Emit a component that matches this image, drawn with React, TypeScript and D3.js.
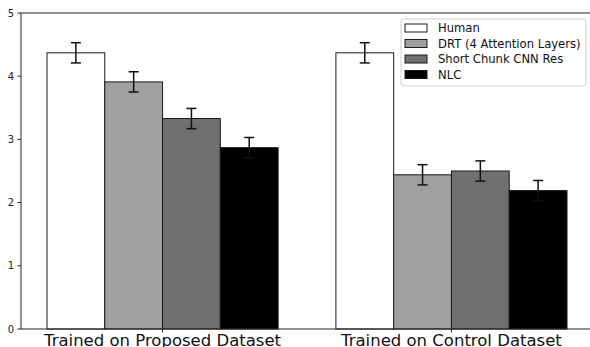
import React from "react";
import * as d3 from "d3";

const groups = ["Trained on Proposed Dataset", "Trained on Control Dataset"];
const seriesNames = ["Human", "DRT (4 Attention Layers)", "Short Chunk CNN Res", "NLC"];
const seriesColors = ["#ffffff", "#a0a0a0", "#707070", "#000000"];
const humanScores = [4.37, 4.37];
const drtScores = [3.91, 2.44];
const cnnScores = [3.33, 2.5];
const nlcScores = [2.87, 2.19];
const humanErr = [0.16, 0.16];
const drtErr = [0.16, 0.16];
const cnnErr = [0.16, 0.16];
const nlcErr = [0.16, 0.16];
const yTicks = [0, 1, 2, 3, 4, 5];

const W = 590;
const H = 347;
const barW = 0.2;

const App: React.FC = () => {
  const values = [humanScores, drtScores, cnnScores, nlcScores];
  const errors = [humanErr, drtErr, cnnErr, nlcErr];

  const x = d3.scaleLinear().domain([-0.49, 1.49]).range([21, 593]);
  const y = d3.scaleLinear().domain([0, 5]).range([329, 13]);

  const font = "DejaVu Sans, sans-serif";

  return (
    <svg
      width={W}
      height={H}
      style={{ position: "absolute", left: 0, top: 0, background: "#fff" }}
      fontFamily={font}
    >
      {/* bars */}
      {values.map((vals, si) =>
        vals.map((v, gi) => {
          const x0 = x(gi - 0.4 + si * barW);
          const x1 = x(gi - 0.4 + (si + 1) * barW);
          return (
            <rect
              key={`b${si}-${gi}`}
              x={x0}
              y={y(v)}
              width={x1 - x0}
              height={y(0) - y(v)}
              fill={seriesColors[si]}
              stroke="#1a1a1a"
              strokeWidth={1}
            />
          );
        })
      )}

      {/* error bars */}
      {values.map((vals, si) =>
        vals.map((v, gi) => {
          const cx = x(gi - 0.4 + (si + 0.5) * barW);
          const e = errors[si][gi];
          return (
            <g key={`e${si}-${gi}`} stroke="#111" strokeWidth={1.5}>
              <line x1={cx} x2={cx} y1={y(v + e)} y2={y(v - e)} />
              <line x1={cx - 5} x2={cx + 5} y1={y(v + e)} y2={y(v + e)} />
              <line x1={cx - 5} x2={cx + 5} y1={y(v - e)} y2={y(v - e)} />
            </g>
          );
        })
      )}

      {/* spines */}
      <g stroke="#222" strokeWidth={1} fill="none">
        <line x1={21} x2={21} y1={y(5)} y2={y(0)} />
        <line x1={21} x2={W} y1={y(0)} y2={y(0)} />
        <line x1={21} x2={W} y1={y(5)} y2={y(5)} />
      </g>

      {/* y ticks */}
      {yTicks.map((t) => (
        <g key={`yt${t}`}>
          <line x1={17.5} x2={21} y1={y(t)} y2={y(t)} stroke="#222" />
          <text
            x={14}
            y={y(t)}
            dy="0.35em"
            textAnchor="end"
            fontSize={10}
            fill="#222"
          >
            {t}
          </text>
        </g>
      ))}

      {/* x ticks */}
      {groups.map((g, gi) => (
        <g key={`xt${gi}`}>
          <line x1={x(gi)} x2={x(gi)} y1={y(0)} y2={y(0) + 3.5} stroke="#222" />
          <text
            x={x(gi)}
            y={346}
            textAnchor="middle"
            fontSize={16.5}
            fill="#111"
          >
            {g}
          </text>
        </g>
      ))}

      {/* legend */}
      <rect
        x={401}
        y={19}
        width={185}
        height={67}
        rx={3}
        fill="#fff"
        fillOpacity={0.8}
        stroke="#d0d0d0"
      />
      {seriesNames.map((n, i) => (
        <g key={`lg${i}`} transform={`translate(405, ${28 + i * 15.5})`}>
          <rect
            x={0}
            y={-4}
            width={22}
            height={8}
            fill={seriesColors[i]}
            stroke="#1a1a1a"
          />
          <text x={33} y={0} dy="0.35em" fontSize={11.6} fill="#111">
            {n}
          </text>
        </g>
      ))}
    </svg>
  );
};

export default App;
